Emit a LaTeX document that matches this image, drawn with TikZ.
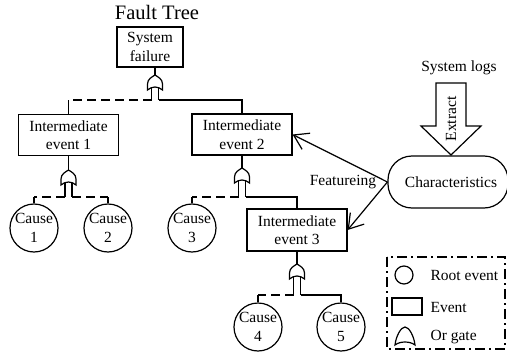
\documentclass[tikz,border=0pt]{standalone}
\usepackage{fontspec}
\setmainfont{Liberation Serif}
\usetikzlibrary{calc,arrows.meta}

\tikzset{
  every node/.style={font=\fontsize{15.5}{18.5}\selectfont, inner sep=0pt},
  evbox/.style={draw, rectangle, align=center, minimum width=100pt, minimum height=41pt},
  cause/.style={draw, circle, align=center, minimum size=48pt},
  dashline/.style={dash pattern=on 9pt off 5pt},
  legendline/.style={dash pattern=on 10pt off 4pt on 2pt off 4pt},
  feat/.style={-{Straight Barb[length=14pt,width=18pt]}},
  orgate/.pic={
    \draw[fill=white] (-7.5,15) -- (-7.5,9)
      .. controls (-7.5,4) and (-3,2) .. (0,0)
      .. controls (3,2) and (7.5,4) .. (7.5,9) -- (7.5,15)
      .. controls (3,11) and (-3,11) .. (-7.5,15) -- cycle;
  }
}

\begin{document}
\begin{tikzpicture}[x=1pt, y=-1pt, line width=1.2pt, line join=miter]
\useasboundingbox (0,0) rectangle (507,359);

% title
\node[font=\fontsize{20.5}{24}\selectfont] (title) at (157,12) {Fault Tree};

% events
\node[evbox, minimum width=66pt, minimum height=40pt] (sys) at (150,47) {System\\failure};
\node[evbox] (ie1) at (68.5,135) {Intermediate\\event 1};
\node[evbox] (ie2) at (242,134.5) {Intermediate\\event 2};
\node[evbox, minimum height=42pt] (ie3) at (297,230) {Intermediate\\event 3};

% root causes
\node[cause] (c1) at (34,228) {Cause\\1};
\node[cause] (c2) at (108,228) {Cause\\2};
\node[cause] (c3) at (192,228) {Cause\\3};
\node[cause] (c4) at (258,327) {Cause\\4};
\node[cause] (c5) at (341,327) {Cause\\5};

% gate tops
\coordinate (g0) at (155,75);
\coordinate (g1) at (68.5,170);
\coordinate (g2) at (242,168);
\coordinate (g3) at (297,264);

% gate under system failure
\draw (g0 |- sys.south) -- (g0);
\draw ($(g0)+(-3.5,12)$) -- ($(g0)+(-3.5,25)$) coordinate (g0l);
\draw[dashline] (g0l) -- (g0l -| ie1.north);
\draw (g0l -| ie1.north) -- (ie1.north);
\draw ($(g0)+(3.5,12)$) -- ($(g0)+(3.5,25)$) coordinate (g0r);
\draw (g0r) -- (g0r -| ie2.north) -- (ie2.north);
\pic at (g0) {orgate};

% gate under intermediate event 1
\draw (ie1.south) -- (g1);
\draw ($(g1)+(-3.5,12)$) -- ($(g1)+(-3.5,27)$) coordinate (g1l);
\draw ($(g1)+(3.5,12)$) -- ($(g1)+(3.5,27)$) coordinate (g1r);
\draw[dashline] (g1l) -- (g1l -| c1.north);
\draw[dashline] (g1r) -- (g1r -| c2.north);
\draw (g1l -| c1.north) -- (c1.north);
\draw (g1r -| c2.north) -- (c2.north);
\pic at (g1) {orgate};

% gate under intermediate event 2
\draw (ie2.south) -- (g2);
\draw ($(g2)+(-3.5,12)$) -- ($(g2)+(-3.5,29)$) coordinate (g2l);
\draw[dashline] (g2l) -- (g2l -| c3.north);
\draw (g2l -| c3.north) -- (c3.north);
\draw ($(g2)+(3.5,12)$) -- ($(g2)+(3.5,29)$) coordinate (g2r);
\draw (g2r) -- (g2r -| ie3.north) -- (ie3.north);
\pic at (g2) {orgate};

% gate under intermediate event 3
\draw (ie3.south) -- (g3);
\draw ($(g3)+(-3.5,12)$) -- ($(g3)+(-3.5,31)$) coordinate (g3l);
\draw[dashline] (g3l) -- (g3l -| c4.north);
\draw (g3l -| c4.north) -- (c4.north);
\draw ($(g3)+(3.5,12)$) -- ($(g3)+(3.5,31)$) coordinate (g3r);
\draw (g3r) -- (g3r -| c5.north) -- (c5.north);
\pic at (g3) {orgate};

% characteristics and log extraction
\node[draw, rectangle, rounded corners=24pt, minimum width=120pt, minimum height=52pt]
  (char) at (448,182) {\hspace*{6pt}Characteristics};
\node (logs) at (459,68) {System logs};
\coordinate (tip) at (451,155);
\draw[fill=white] (436,83) -- (466,83) -- (466,126) -- (481,126) -- (tip)
  -- (421,126) -- (436,126) -- cycle;
\node[rotate=90] (extract) at (451,119) {Extract};

% featuring arrows
\node (featlabel) at (343,182) {Featureing};
\draw[feat] (char.west) -- (ie2.east);
\draw[feat] (char.west) -- (ie3.east);

% legend
\draw[legendline] (387,257) rectangle (505,349);
\node[draw, circle, minimum size=18pt] (lgcirc) at (404,275) {};
\node[anchor=west] (lgroot) at (430,275) {Root event};
\node[draw, rectangle, minimum width=30pt, minimum height=17pt] (lgrect) at (407,306.5) {};
\node[anchor=west] (lgevent) at (430,307) {Event};
\draw (395,345) .. controls (396,336) and (401,327) .. (405,327)
  .. controls (409,327) and (414,336) .. (415,345)
  .. controls (410,341) and (400,341) .. cycle;
\node[anchor=west] (lggate) at (430,337) {Or gate};
\end{tikzpicture}
\end{document}
